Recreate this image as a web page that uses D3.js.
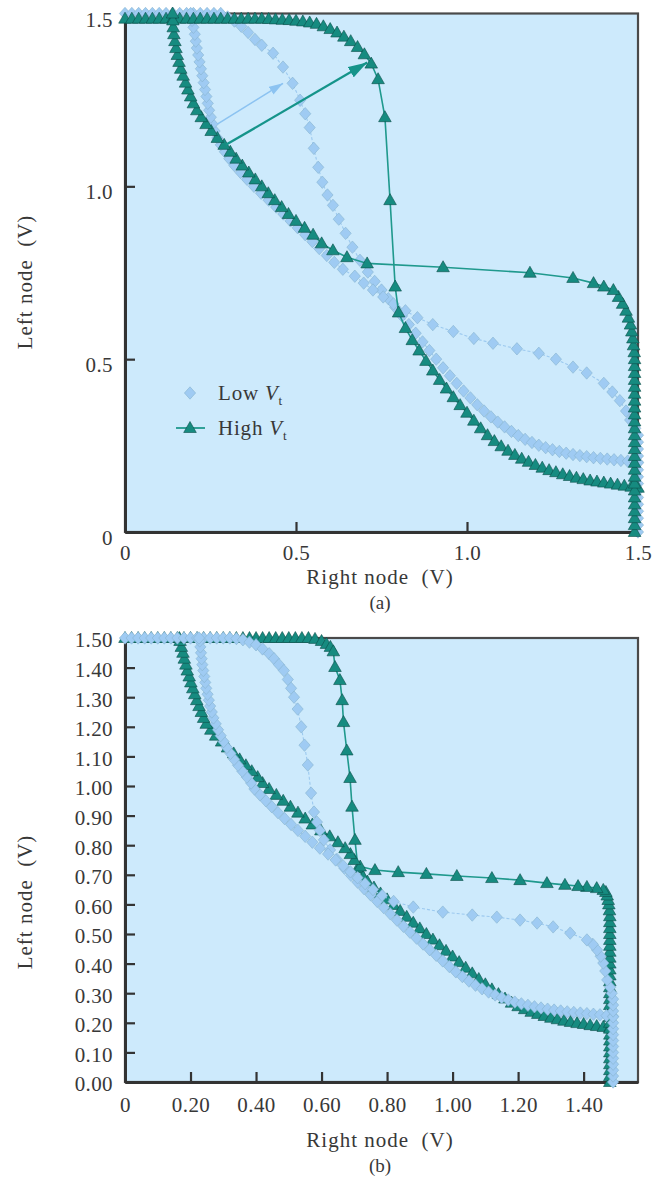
<!DOCTYPE html>
<html><head><meta charset="utf-8">
<script src="https://cdn.jsdelivr.net/npm/d3@7"></script>
<style>body{margin:0;background:#fff}svg text{font-family:"Liberation Serif","Times New Roman",serif}</style>
</head><body><svg id="c" width="654" height="1179"></svg>
<script>
// ---------------- DATA ----------------
// Panel (a): ticks
const aXTicks = [0, 0.5, 1.0, 1.5];
const aXLabels = ["0", "0.5", "1.0", "1.5"];
const aYTicks = [0, 0.5, 1.0, 1.5];
const aYLabels = ["0", "0.5", "1.0", "1.5"];
// Panel (b): ticks
const bXTicks = [0, 0.2, 0.4, 0.6, 0.8, 1.0, 1.2, 1.4];
const bXLabels = ["0", "0.20", "0.40", "0.60", "0.80", "1.00", "1.20", "1.40"];
const bYTicks = [0, 0.1, 0.2, 0.3, 0.4, 0.5, 0.6, 0.7, 0.8, 0.9, 1.0, 1.1, 1.2, 1.3, 1.4, 1.5];
const bYLabels = ["0.00","0.10","0.20","0.30","0.40","0.50","0.60","0.70","0.80","0.90","1.00","1.10","1.20","1.30","1.40","1.50"];

const seriesNames = ["Low V_t", "High V_t"];

// (a) High Vt : left node as a function of right node [right, left]
const aHighLeftOfRight = [[0,1.485],[0.02,1.485],[0.04,1.485],[0.06,1.485],[0.08,1.485],[0.10,1.485],[0.12,1.485],[0.14,1.485],[0.16,1.485],[0.18,1.485],[0.20,1.485],[0.22,1.485],[0.24,1.485],[0.26,1.485],[0.28,1.485],[0.30,1.485],[0.32,1.485],[0.34,1.485],[0.36,1.485],[0.38,1.485],[0.40,1.485],[0.42,1.484],[0.44,1.483],[0.46,1.482],[0.48,1.481],[0.50,1.479],[0.52,1.477],[0.54,1.474],[0.56,1.47],[0.58,1.463],[0.60,1.455],[0.62,1.445],[0.64,1.433],[0.66,1.42],[0.68,1.403],[0.70,1.382],[0.72,1.355],[0.74,1.31],[0.76,1.2],[0.775,0.96],[0.79,0.71],[0.80,0.635],[0.82,0.59],[0.84,0.555],[0.86,0.525],[0.88,0.495],[0.90,0.467],[0.92,0.44],[0.94,0.415],[0.96,0.39],[0.98,0.367],[1.00,0.345],[1.02,0.322],[1.04,0.3],[1.06,0.28],[1.08,0.263],[1.10,0.248],[1.12,0.235],[1.14,0.223],[1.16,0.212],[1.18,0.203],[1.20,0.194],[1.22,0.186],[1.24,0.179],[1.26,0.173],[1.28,0.167],[1.30,0.162],[1.32,0.157],[1.34,0.153],[1.36,0.149],[1.38,0.146],[1.40,0.143],[1.42,0.14],[1.44,0.137],[1.46,0.134],[1.48,0.131],[1.50,0.128]];
// (a) High Vt : right node as a function of left node [left, right]
const aHighRightOfLeft = [[0,1.49],[0.02,1.49],[0.04,1.49],[0.06,1.49],[0.08,1.49],[0.10,1.49],[0.12,1.49],[0.14,1.49],[0.16,1.49],[0.18,1.49],[0.20,1.49],[0.22,1.49],[0.24,1.49],[0.26,1.49],[0.28,1.49],[0.30,1.49],[0.32,1.49],[0.34,1.49],[0.36,1.49],[0.38,1.49],[0.40,1.49],[0.42,1.49],[0.44,1.49],[0.46,1.49],[0.48,1.49],[0.50,1.49],[0.52,1.489],[0.54,1.487],[0.56,1.485],[0.58,1.482],[0.60,1.478],[0.62,1.472],[0.64,1.465],[0.66,1.455],[0.68,1.443],[0.70,1.428],[0.71,1.40],[0.72,1.37],[0.735,1.31],[0.75,1.184],[0.766,0.93],[0.777,0.708],[0.795,0.649],[0.815,0.608],[0.835,0.575],[0.86,0.55],[0.88,0.525],[0.90,0.50],[0.92,0.478],[0.94,0.458],[0.96,0.438],[0.98,0.419],[1.00,0.40],[1.02,0.381],[1.04,0.362],[1.06,0.343],[1.08,0.325],[1.10,0.308],[1.12,0.29],[1.14,0.27],[1.16,0.252],[1.18,0.237],[1.20,0.223],[1.22,0.21],[1.24,0.20],[1.26,0.192],[1.28,0.184],[1.30,0.177],[1.32,0.17],[1.34,0.163],[1.36,0.158],[1.38,0.153],[1.40,0.149],[1.42,0.146],[1.44,0.143],[1.46,0.141],[1.48,0.14],[1.50,0.139]];
// (a) Low Vt : left node of right node [right, left]
const aLowLeftOfRight = [[0,1.5],[0.02,1.5],[0.04,1.5],[0.06,1.5],[0.08,1.5],[0.10,1.5],[0.12,1.5],[0.14,1.5],[0.16,1.5],[0.18,1.5],[0.20,1.5],[0.22,1.5],[0.24,1.5],[0.26,1.5],[0.28,1.5],[0.30,1.49],[0.32,1.478],[0.34,1.463],[0.36,1.445],[0.38,1.425],[0.40,1.408],[0.433,1.385],[0.462,1.345],[0.49,1.298],[0.512,1.249],[0.527,1.21],[0.54,1.17],[0.552,1.11],[0.565,1.055],[0.577,1.012],[0.592,0.975],[0.608,0.945],[0.625,0.905],[0.645,0.864],[0.665,0.824],[0.687,0.786],[0.71,0.752],[0.73,0.725],[0.75,0.70],[0.77,0.675],[0.79,0.65],[0.81,0.625],[0.83,0.60],[0.85,0.575],[0.87,0.55],[0.89,0.525],[0.91,0.50],[0.93,0.475],[0.95,0.452],[0.97,0.43],[0.99,0.408],[1.01,0.388],[1.03,0.368],[1.05,0.35],[1.07,0.333],[1.09,0.318],[1.11,0.304],[1.13,0.291],[1.15,0.279],[1.17,0.268],[1.19,0.259],[1.21,0.251],[1.23,0.244],[1.25,0.238],[1.27,0.233],[1.29,0.228],[1.31,0.224],[1.33,0.221],[1.35,0.218],[1.37,0.215],[1.39,0.213],[1.41,0.211],[1.43,0.209],[1.45,0.207],[1.47,0.205],[1.49,0.203],[1.50,0.202]];
// (a) Low Vt : right node of left node [left, right]
const aLowRightOfLeft = [[0,1.5],[0.02,1.5],[0.04,1.5],[0.06,1.5],[0.08,1.5],[0.10,1.5],[0.12,1.5],[0.14,1.5],[0.16,1.5],[0.18,1.5],[0.20,1.5],[0.22,1.5],[0.24,1.5],[0.26,1.5],[0.28,1.5],[0.30,1.492],[0.324,1.477],[0.35,1.465],[0.38,1.447],[0.405,1.425],[0.43,1.40],[0.46,1.35],[0.477,1.31],[0.50,1.26],[0.517,1.21],[0.53,1.146],[0.546,1.076],[0.56,1.02],[0.58,0.96],[0.60,0.90],[0.62,0.855],[0.64,0.82],[0.66,0.785],[0.68,0.755],[0.70,0.725],[0.72,0.698],[0.74,0.672],[0.76,0.637],[0.78,0.612],[0.80,0.59],[0.82,0.568],[0.84,0.548],[0.86,0.527],[0.88,0.505],[0.90,0.484],[0.92,0.463],[0.94,0.442],[0.96,0.42],[0.98,0.398],[1.00,0.377],[1.02,0.357],[1.04,0.338],[1.06,0.32],[1.08,0.305],[1.10,0.292],[1.12,0.28],[1.14,0.27],[1.16,0.262],[1.18,0.256],[1.20,0.251],[1.22,0.246],[1.24,0.242],[1.26,0.238],[1.28,0.234],[1.30,0.23],[1.32,0.226],[1.34,0.222],[1.36,0.218],[1.38,0.214],[1.40,0.21],[1.42,0.207],[1.44,0.204],[1.46,0.2],[1.48,0.196],[1.50,0.192]];
// (a) arrows [from (right,left), to (right,left)]
const aArrowLow = [[0.27, 1.18], [0.462, 1.298]];
const aArrowHigh = [[0.295, 1.12], [0.708, 1.358]];

// (b) High Vt
const bHighLeftOfRight = [[0,1.5],[0.02,1.5],[0.04,1.5],[0.06,1.5],[0.08,1.5],[0.10,1.5],[0.12,1.5],[0.14,1.5],[0.16,1.5],[0.18,1.5],[0.20,1.5],[0.22,1.5],[0.24,1.5],[0.26,1.5],[0.28,1.5],[0.30,1.5],[0.32,1.5],[0.34,1.5],[0.36,1.5],[0.38,1.5],[0.40,1.5],[0.42,1.5],[0.44,1.5],[0.46,1.5],[0.48,1.5],[0.50,1.5],[0.52,1.5],[0.54,1.5],[0.56,1.5],[0.58,1.497],[0.60,1.49],[0.615,1.48],[0.627,1.47],[0.636,1.455],[0.641,1.402],[0.656,1.358],[0.663,1.29],[0.667,1.216],[0.677,1.12],[0.687,1.027],[0.693,0.93],[0.702,0.818],[0.711,0.723],[0.727,0.693],[0.74,0.677],[0.76,0.657],[0.78,0.637],[0.80,0.617],[0.82,0.598],[0.84,0.578],[0.86,0.558],[0.88,0.538],[0.90,0.519],[0.92,0.50],[0.94,0.481],[0.96,0.462],[0.98,0.443],[1.00,0.424],[1.02,0.405],[1.04,0.386],[1.06,0.367],[1.08,0.348],[1.10,0.33],[1.12,0.313],[1.14,0.297],[1.16,0.282],[1.18,0.268],[1.20,0.256],[1.22,0.246],[1.24,0.237],[1.26,0.23],[1.28,0.223],[1.30,0.217],[1.32,0.212],[1.34,0.207],[1.36,0.203],[1.38,0.199],[1.40,0.196],[1.42,0.192],[1.44,0.189],[1.46,0.186],[1.48,0.183]];
const bHighRightOfLeft = [[0,1.48],[0.02,1.48],[0.04,1.48],[0.06,1.48],[0.08,1.48],[0.10,1.48],[0.12,1.48],[0.14,1.48],[0.16,1.48],[0.18,1.48],[0.20,1.48],[0.22,1.48],[0.24,1.48],[0.26,1.48],[0.28,1.48],[0.30,1.48],[0.32,1.48],[0.34,1.48],[0.36,1.48],[0.38,1.48],[0.40,1.48],[0.42,1.48],[0.44,1.48],[0.46,1.48],[0.48,1.48],[0.50,1.48],[0.52,1.48],[0.54,1.48],[0.56,1.48],[0.58,1.479],[0.60,1.477],[0.615,1.475],[0.63,1.472],[0.642,1.468],[0.649,1.46],[0.655,1.44],[0.659,1.41],[0.662,1.383],[0.666,1.343],[0.672,1.288],[0.682,1.206],[0.689,1.12],[0.696,1.013],[0.703,0.92],[0.709,0.834],[0.716,0.763],[0.728,0.718],[0.75,0.70],[0.77,0.688],[0.79,0.672],[0.81,0.65],[0.83,0.625],[0.85,0.598],[0.87,0.572],[0.89,0.55],[0.91,0.528],[0.93,0.505],[0.95,0.483],[0.97,0.462],[0.99,0.44],[1.01,0.42],[1.03,0.405],[1.05,0.387],[1.07,0.369],[1.09,0.35],[1.11,0.332],[1.13,0.313],[1.15,0.295],[1.17,0.277],[1.19,0.262],[1.21,0.248],[1.23,0.24],[1.25,0.233],[1.27,0.226],[1.29,0.219],[1.31,0.213],[1.33,0.207],[1.35,0.201],[1.37,0.196],[1.39,0.19],[1.41,0.186],[1.43,0.181],[1.45,0.177],[1.47,0.172],[1.49,0.168],[1.50,0.166]];
// (b) Low Vt
const bLowLeftOfRight = [[0,1.5],[0.02,1.5],[0.04,1.5],[0.06,1.5],[0.08,1.5],[0.10,1.5],[0.12,1.5],[0.14,1.5],[0.16,1.5],[0.18,1.5],[0.20,1.5],[0.22,1.5],[0.24,1.5],[0.26,1.5],[0.28,1.5],[0.30,1.5],[0.32,1.5],[0.34,1.498],[0.36,1.494],[0.38,1.486],[0.40,1.477],[0.42,1.463],[0.44,1.447],[0.455,1.43],[0.47,1.41],[0.485,1.39],[0.497,1.36],[0.507,1.33],[0.516,1.30],[0.527,1.26],[0.538,1.20],[0.548,1.138],[0.558,1.071],[0.568,0.976],[0.577,0.912],[0.586,0.878],[0.595,0.85],[0.607,0.818],[0.626,0.784],[0.647,0.752],[0.67,0.722],[0.69,0.698],[0.71,0.675],[0.73,0.653],[0.75,0.632],[0.77,0.61],[0.79,0.589],[0.81,0.568],[0.83,0.547],[0.85,0.526],[0.87,0.506],[0.89,0.486],[0.91,0.466],[0.93,0.447],[0.95,0.428],[0.97,0.409],[0.99,0.39],[1.01,0.372],[1.03,0.356],[1.05,0.341],[1.07,0.327],[1.09,0.315],[1.11,0.304],[1.13,0.294],[1.15,0.285],[1.17,0.277],[1.19,0.27],[1.21,0.264],[1.23,0.259],[1.25,0.254],[1.27,0.25],[1.29,0.246],[1.31,0.243],[1.33,0.24],[1.35,0.237],[1.37,0.235],[1.39,0.233],[1.41,0.231],[1.43,0.229],[1.45,0.227],[1.47,0.224],[1.49,0.222]];
const bLowRightOfLeft = [[0,1.49],[0.02,1.49],[0.04,1.49],[0.06,1.49],[0.08,1.49],[0.10,1.49],[0.12,1.49],[0.14,1.49],[0.16,1.49],[0.18,1.49],[0.20,1.49],[0.22,1.49],[0.24,1.49],[0.26,1.49],[0.28,1.49],[0.30,1.486],[0.32,1.481],[0.345,1.472],[0.375,1.466],[0.402,1.46],[0.425,1.452],[0.446,1.441],[0.465,1.428],[0.48,1.41],[0.503,1.359],[0.524,1.307],[0.537,1.258],[0.547,1.206],[0.557,1.135],[0.564,1.06],[0.574,0.97],[0.591,0.88],[0.61,0.82],[0.63,0.785],[0.65,0.757],[0.67,0.733],[0.69,0.71],[0.71,0.688],[0.73,0.666],[0.75,0.643],[0.77,0.62],[0.79,0.595],[0.81,0.572],[0.83,0.55],[0.85,0.528],[0.87,0.507],[0.89,0.487],[0.91,0.467],[0.93,0.448],[0.95,0.43],[0.97,0.412],[0.99,0.395],[1.01,0.385],[1.03,0.372],[1.05,0.358],[1.07,0.345],[1.09,0.333],[1.11,0.322],[1.13,0.311],[1.15,0.301],[1.17,0.292],[1.19,0.284],[1.21,0.277],[1.23,0.27],[1.25,0.265],[1.27,0.26],[1.29,0.256],[1.31,0.252],[1.33,0.248],[1.35,0.245],[1.37,0.242],[1.39,0.239],[1.41,0.236],[1.43,0.234],[1.45,0.232],[1.47,0.23],[1.49,0.228],[1.50,0.226]];

// ---------------- STYLE ----------------
const BG = "#cdeafc";
const TEAL = "#168b80", TEAL_LINE = "#1f998d", TEAL_EDGE = "#0c4f49";
const LB = "#9fcbf3", LB_LINE = "#9cc9ef", LB_EDGE = "#86b4cf";
const TXT = "#383838";
const triPath = "M0,-6.5L6.3,4.5L-6.3,4.5Z";
const diaPath = "M0,-6.2L5.6,0L0,6.2L-5.6,0Z";

const svg = d3.select("#c");
const defs = svg.append("defs");
function arrowMarker(id, color, len, wid) {
  defs.append("marker").attr("id", id).attr("markerUnits", "userSpaceOnUse")
    .attr("markerWidth", len).attr("markerHeight", wid).attr("refX", len).attr("refY", wid / 2)
    .attr("orient", "auto").append("path")
    .attr("d", `M0,0L${len},${wid / 2}L0,${wid}Z`).attr("fill", color);
}
arrowMarker("ahLow", "#8cc3f1", 14, 9);
arrowMarker("ahHigh", "#15948a", 19, 12);

function panel(o) {
  const g = svg.append("g");
  const x = d3.scaleLinear().domain(o.xDomain).range([o.left, o.right]);
  const y = d3.scaleLinear().domain(o.yDomain).range([o.bottom, o.top]);
  g.append("rect").attr("x", o.left).attr("y", o.top)
    .attr("width", o.right - o.left).attr("height", o.bottom - o.top)
    .attr("fill", BG).attr("stroke", "#4a4a4a").attr("stroke-width", 2.2);

  const xa = g.append("g").attr("transform", `translate(0,${o.bottom})`)
    .call(d3.axisBottom(x).tickValues(o.xTicks).tickFormat((d, i) => o.xLabels[i])
      .tickSize(-10).tickSizeOuter(0).tickPadding(o.xPad));
  const ya = g.append("g").attr("transform", `translate(${o.left},0)`)
    .call(d3.axisLeft(y).tickValues(o.yTicks).tickFormat((d, i) => o.yLabels[i])
      .tickSize(-10).tickSizeOuter(0).tickPadding(12));
  [xa, ya].forEach(a => {
    a.attr("font-family", null).attr("font-size", null);
    a.select(".domain").attr("stroke", "#333").attr("stroke-width", 3);
    a.selectAll(".tick line").attr("stroke", "#333").attr("stroke-width", 2.2);
    a.selectAll(".tick text").attr("font-size", 21).attr("fill", TXT).style("letter-spacing", "0.4px");
  });
  ya.selectAll(".tick text").attr("dy", o.yDy);

  const line = d3.line().x(d => x(d[0])).y(d => y(d[1]));
  function drawSeries(curves, kind) {
    const pts = [];
    curves.forEach(c => {
      const p = c.swap ? c.data.map(d => [d[1], d[0]]) : c.data.map(d => [d[0], d[1]]);
      pts.push(p);
    });
    pts.forEach(p => {
      g.append("path").attr("d", line(p)).attr("fill", "none")
        .attr("stroke", kind === "high" ? TEAL_LINE : LB_LINE)
        .attr("stroke-width", kind === "high" ? 1.6 : 1.1)
        .attr("stroke-dasharray", kind === "high" ? null : "3,2");
    });
    pts.forEach(p => {
      g.append("g").selectAll("path").data(p).join("path")
        .attr("transform", d => `translate(${x(d[0])},${y(d[1])})`)
        .attr("d", kind === "high" ? triPath : diaPath)
        .attr("fill", kind === "high" ? TEAL : LB)
        .attr("stroke", kind === "high" ? TEAL_EDGE : LB_EDGE)
        .attr("stroke-width", 0.6);
    });
  }
  o.order.forEach(k => drawSeries(o.series[k], k));

  (o.arrows || []).forEach(a => {
    g.append("line").attr("x1", x(a.pts[0][0])).attr("y1", y(a.pts[0][1]))
      .attr("x2", x(a.pts[1][0])).attr("y2", y(a.pts[1][1]))
      .attr("stroke", a.color).attr("stroke-width", a.w).attr("marker-end", `url(#${a.marker})`);
  });

  // titles
  g.append("text").attr("x", o.xTitle[0]).attr("y", o.xTitle[1]).attr("text-anchor", "middle")
    .attr("font-size", 21).attr("fill", TXT).style("white-space", "pre").style("letter-spacing", "1px")
    .text("Right node  (V)");
  g.append("text").attr("x", o.xTitle[0]).attr("y", o.xTitle[1] + 25).attr("text-anchor", "middle")
    .attr("font-size", 19).attr("fill", TXT).text(o.caption);
  g.append("text").attr("transform", `translate(${o.yTitle[0]},${o.yTitle[1]}) rotate(-90)`)
    .attr("text-anchor", "middle").attr("font-size", 21).attr("fill", TXT)
    .style("white-space", "pre").style("letter-spacing", "1px").text("Left node  (V)");

  if (o.legend) {
    const L = o.legend;
    const lg = g.append("g");
    lg.append("path").attr("transform", `translate(${L.x},${L.y1})`).attr("d", diaPath)
      .attr("fill", LB).attr("stroke", LB_EDGE).attr("stroke-width", 0.6);
    lg.append("line").attr("x1", L.x - 14).attr("x2", L.x + 15).attr("y1", L.y2).attr("y2", L.y2)
      .attr("stroke", TEAL_LINE).attr("stroke-width", 1.8);
    lg.append("path").attr("transform", `translate(${L.x},${L.y2})`).attr("d", triPath)
      .attr("fill", TEAL).attr("stroke", TEAL_EDGE).attr("stroke-width", 0.6);
    [[L.y1, "Low "], [L.y2, "High "]].forEach(([yy, w]) => {
      const t = lg.append("text").attr("x", L.x + 28).attr("y", yy + 7).attr("font-size", 21)
        .attr("fill", TXT).style("letter-spacing", "0.8px").style("white-space", "pre");
      t.append("tspan").text(w);
      t.append("tspan").attr("font-style", "italic").text("V");
      t.append("tspan").attr("font-size", 13).attr("dy", 5).text("t");
    });
  }
}

panel({
  left: 125, right: 638, top: 13.5, bottom: 532,
  xDomain: [0, 1.5], yDomain: [0, 1.5],
  xTicks: aXTicks, xLabels: aXLabels, yTicks: aYTicks, yLabels: aYLabels,
  xPad: 13, yDy: "0.6em",
  series: {
    low: [{ data: aLowLeftOfRight, swap: false }, { data: aLowRightOfLeft, swap: true }],
    high: [{ data: aHighLeftOfRight, swap: false }, { data: aHighRightOfLeft, swap: true }]
  },
  order: ["low", "high"],
  arrows: [
    { pts: aArrowLow, color: "#8cc3f1", w: 1.6, marker: "ahLow" },
    { pts: aArrowHigh, color: "#15948a", w: 2.3, marker: "ahHigh" }
  ],
  xTitle: [380, 584], yTitle: [32, 282], caption: "(a)",
  legend: { x: 190, y1: 393, y2: 428 }
});

panel({
  left: 125, right: 638, top: 638, bottom: 1082,
  xDomain: [0, 1.566], yDomain: [0, 1.5],
  xTicks: bXTicks, xLabels: bXLabels, yTicks: bYTicks, yLabels: bYLabels,
  xPad: 15, yDy: "0.42em",
  series: {
    low: [{ data: bLowLeftOfRight, swap: false }, { data: bLowRightOfLeft, swap: true }],
    high: [{ data: bHighLeftOfRight, swap: false }, { data: bHighRightOfLeft, swap: true }]
  },
  order: ["high", "low"],
  xTitle: [380, 1147], yTitle: [32, 902], caption: "(b)"
});
</script></body></html>
